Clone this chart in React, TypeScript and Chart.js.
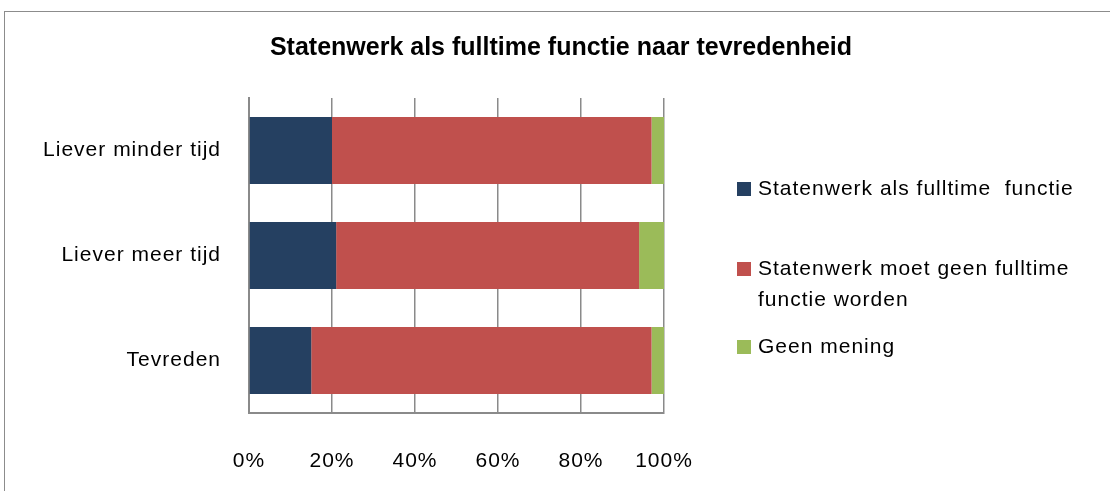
import React, { useEffect, useRef } from "react";
import { Chart, registerables } from "chart.js";

Chart.register(...registerables);

const categories = ["Liever minder tijd", "Liever meer tijd", "Tevreden"];
const fulltimeValues = [20, 21, 15];
const geenFulltimeValues = [77, 73, 82];
const geenMeningValues = [3, 6, 3];
const seriesNames = ["Statenwerk als fulltime functie", "Statenwerk moet geen fulltime functie worden", "Geen mening"];
const legendLines = [["Statenwerk als fulltime  functie"], ["Statenwerk moet geen fulltime", "functie worden"], ["Geen mening"]];
const colors = ["#254061", "#c0504d", "#9bbb59"];
const titleText = "Statenwerk als fulltime functie naar tevredenheid";
const FONT = "'Liberation Sans', Arial, sans-serif";
const SPACING = "1px";

export default function App() {
  const ref = useRef<HTMLCanvasElement>(null);
  useEffect(() => {
    document.body.style.margin = "0";
    const decor = {
      id: "decor",
      beforeDraw(chart: any) {
        const ctx = chart.ctx;
        ctx.save();
        ctx.fillStyle = "#ffffff";
        ctx.fillRect(0, 0, chart.width, chart.height);
        ctx.strokeStyle = "#8c8c8c";
        ctx.lineWidth = 1;
        ctx.strokeRect(4.5, 11.5, 1300, 1000);
        ctx.restore();
        (ctx as any).letterSpacing = SPACING;
      },
      afterDraw(chart: any) {
        const ctx = chart.ctx;
        ctx.save();
        (ctx as any).letterSpacing = "0px";
        ctx.fillStyle = "#000";
        ctx.font = `bold 25px ${FONT}`;
        ctx.textAlign = "center";
        ctx.textBaseline = "middle";
        ctx.fillText(titleText, 561, 48);
        (ctx as any).letterSpacing = SPACING;
        ctx.font = `21px ${FONT}`;
        ctx.textAlign = "left";
        const ys = [[189], [269, 300], [347]];
        legendLines.forEach((lines, i) => {
          ctx.fillStyle = colors[i];
          ctx.fillRect(737, ys[i][0] - 7, 14, 14);
          ctx.fillStyle = "#000";
          lines.forEach((l, j) => ctx.fillText(l, 758, ys[i][j]));
        });
        ctx.restore();
      },
    };
    const chart = new Chart(ref.current!, {
      type: "bar",
      data: {
        labels: categories,
        datasets: [
          { label: seriesNames[0], data: fulltimeValues, backgroundColor: colors[0] },
          { label: seriesNames[1], data: geenFulltimeValues, backgroundColor: colors[1] },
          { label: seriesNames[2], data: geenMeningValues, backgroundColor: colors[2] },
        ],
      },
      options: {
        indexAxis: "y",
        animation: false,
        responsive: false,
        layout: { padding: { top: 98, right: 446, left: 0, bottom: 0 } },
        datasets: { bar: { categoryPercentage: 0.64, barPercentage: 1 } },
        plugins: { legend: { display: false }, title: { display: false }, tooltip: { enabled: false } },
        scales: {
          x: {
            stacked: true,
            min: 0,
            max: 100,
            ticks: { stepSize: 20, callback: (v: any) => v + "%", color: "#000", font: { family: FONT, size: 21 }, padding: 36 },
            grid: { color: "#8a8a8a", lineWidth: 1.5, drawTicks: false },
            border: { display: true, color: "#8a8a8a", width: 2 },
            afterFit: (s: any) => { s.height = 491 - 413; },
          },
          y: {
            stacked: true,
            ticks: { color: "#000", font: { family: FONT, size: 21 }, padding: 28 },
            grid: { display: false, drawTicks: false },
            border: { display: true, color: "#8a8a8a", width: 2 },
            afterFit: (s: any) => { s.width = 249; },
          },
        },
      },
      plugins: [decor],
    });
    return () => chart.destroy();
  }, []);
  return (
    <div style={{ position: "fixed", left: 0, top: 0, width: 1110, height: 491 }}>
      <canvas ref={ref} width={1110} height={491} style={{ width: 1110, height: 491 }} />
    </div>
  );
}
